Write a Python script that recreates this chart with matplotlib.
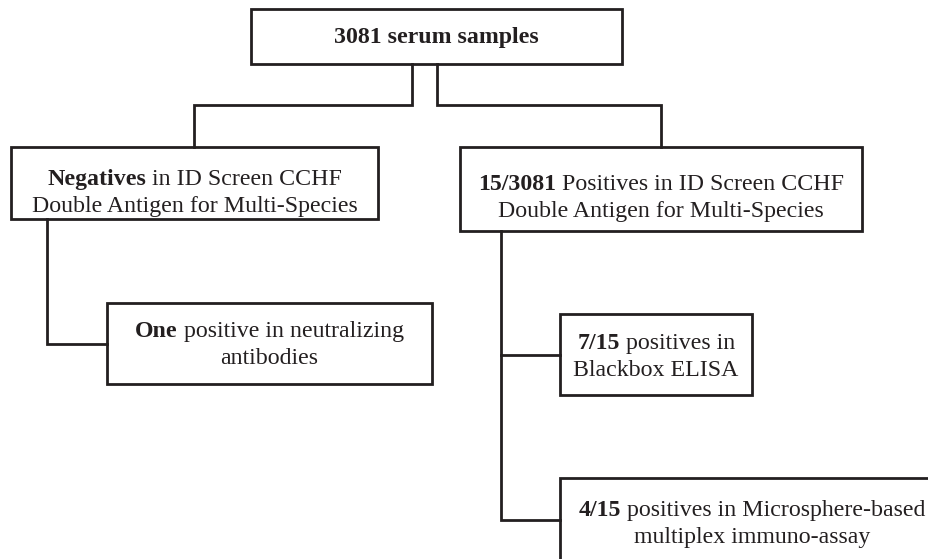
import matplotlib
matplotlib.use("Agg")
import matplotlib.pyplot as plt
from matplotlib.patches import Rectangle

plt.rcParams['font.family'] = ['Liberation Serif', 'DejaVu Serif']

INK = '#231f20'
FS = 17.2

# box texts: each line is a list of (text, bold) pieces
box_texts = [
    [[("3081 serum samples", True)]],
    [[("Negatives", True), (" in ID Screen CCHF", False)],
     [("Double Antigen for Multi-Species", False)]],
    [[("15/3081", True), (" Positives in ID Screen CCHF", False)],
     [("Double Antigen for Multi-Species", False)]],
    [[("One", True), (" positive in neutralizing", False)],
     [("antibodies", False)]],
    [[("7/15", True), (" positives in", False)],
     [("Blackbox ELISA", False)]],
    [[("4/15", True), (" positives in Microsphere-based", False)],
     [("multiplex immuno-assay", False)]],
]

# layout in pixels: (left, top, right, bottom, first baseline)
box_layout = [
    (251, 9, 622, 64, 43),
    (11, 147, 378, 219, 185),
    (460, 147, 862, 231, 190),
    (107, 303, 432, 384, 337),
    (560, 314, 752, 395, 349),
    (560, 478, 945, 575, 516),
]
line_gap = 27

# connector polylines (pixel coords)
connectors = [
    [(412, 64), (412, 105), (194, 105), (194, 147)],
    [(437, 64), (437, 105), (661, 105), (661, 147)],
    [(47, 219), (47, 344), (107, 344)],
    [(501, 231), (501, 520), (560, 520)],
    [(501, 355), (560, 355)],
]

fig = plt.figure(figsize=(9.29, 5.59), dpi=100)
ax = fig.add_axes([0, 0, 1, 1])
ax.set_xlim(0, 929)
ax.set_ylim(559, 0)
ax.axis('off')
renderer = fig.canvas.get_renderer()


def advance(s, weight):
    # width of s measured between two bars, so side bearings do not count
    a = ax.text(0, 0, "|" + s + "|", fontsize=FS, fontweight=weight)
    b = ax.text(0, 0, "||", fontsize=FS, fontweight=weight)
    w = a.get_window_extent(renderer).width - b.get_window_extent(renderer).width
    a.remove()
    b.remove()
    return w


def draw_line(xc, y, pieces):
    weights = ['bold' if bold else 'normal' for _, bold in pieces]
    widths = [advance(s, w) for (s, _), w in zip(pieces, weights)]
    x = xc - sum(widths) / 2
    for (s, _), w, wd in zip(pieces, weights, widths):
        ax.text(x, y, s, fontsize=FS, color=INK, ha='left', va='baseline',
                fontweight=w)
        x += wd


for pts in connectors:
    xs = [p[0] for p in pts]
    ys = [p[1] for p in pts]
    ax.plot(xs, ys, color=INK, lw=2.0, solid_joinstyle='miter', solid_capstyle='projecting')

for (l, t, r, b, base), lines in zip(box_layout, box_texts):
    ax.add_patch(Rectangle((l, t), r - l, b - t, facecolor='white',
                           edgecolor=INK, lw=2.0, joinstyle='miter', clip_on=False))
    for i, pieces in enumerate(lines):
        draw_line((l + r) / 2, base + i * line_gap, pieces)

fig.savefig('out.png', dpi=100, facecolor='white')
